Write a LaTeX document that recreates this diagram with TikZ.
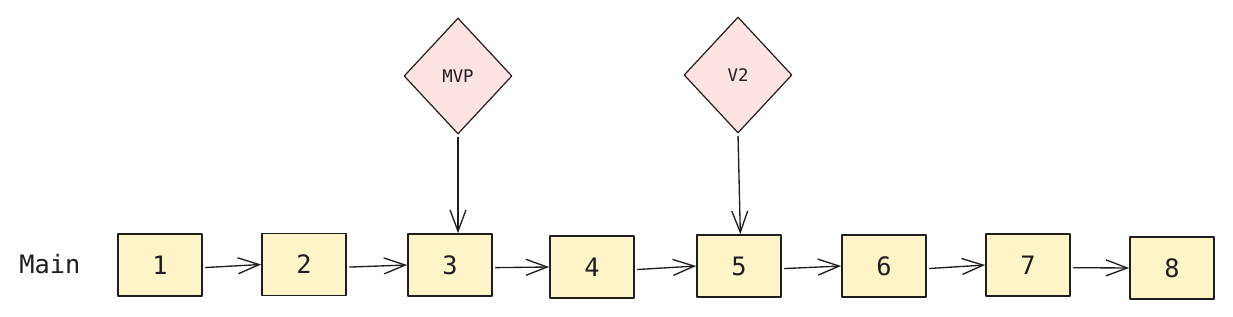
\documentclass[tikz,border=0pt]{standalone}
\usepackage{fontspec}
\setmonofont{DejaVu Sans Mono}
\usetikzlibrary{arrows.meta,shapes.geometric}
\definecolor{rlInk}{HTML}{1E1E1E}
\definecolor{rlCommit}{HTML}{FFF4C8}
\definecolor{rlTag}{HTML}{FFE2E2}
\newcommand{\RLType}{\ttfamily\fontsize{19}{21}\selectfont}
\newcommand{\RLTagType}{\ttfamily\fontsize{13}{15}\selectfont}
\tikzset{rl/base/.style={x=0.75pt,y=-0.75pt,line cap=round,line join=round,
  every node/.style={font=\RLType,text=rlInk}},
  rl/arrow/.style={-{Straight Barb[length=16pt,width=12pt]},draw=rlInk,line width=1pt,
    shorten <=2pt},
  rl/commit/.style={draw=rlInk,fill=rlCommit,line width=1.3pt,minimum width=63pt,
    minimum height=46.5pt,inner sep=0pt},
  rl/tag/.style={diamond,draw=rlInk,fill=rlTag,line width=.9pt,minimum width=81pt,
    minimum height=87pt,inner sep=0pt,aspect=0.93,font=\RLTagType}}

\begin{document}
\begin{tikzpicture}[rl/base]
  \useasboundingbox (0,0) rectangle (1233,317);
  % Commits on the main line, each with its own slight offset.
  \node at (50,264) (main) {Main};
  \foreach \n/\x/\y in {1/160/265,2/304/264.5,3/450/265,4/592/267,
                        5/739/266,6/884/266,7/1028/265,8/1172/268}{%
    \node[rl/commit] (c\n) at (\x,\y) {\n};}
  \foreach \a/\b in {1/2,2/3,3/4,4/5,5/6,6/7,7/8}{%
    \draw[rl/arrow] ([yshift=-2pt]c\a.east) -- (c\b.west);}
  % Release tags pointing down at their commits.
  \node[rl/tag] (mvp) at (458,76) {MVP};
  \node[rl/tag] (v2) at (738,75) {V2};
  \draw[rl/arrow] (mvp.south) -- ([xshift=6pt]c3.north);
  \draw[rl/arrow] (v2.south) -- ([xshift=1pt]c5.north);
\end{tikzpicture}
\end{document}
